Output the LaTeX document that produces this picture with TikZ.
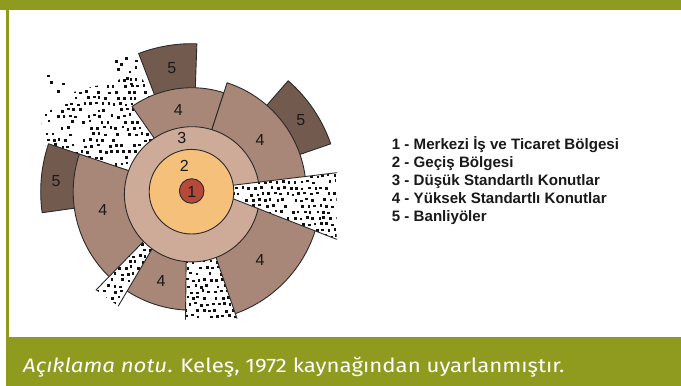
\documentclass[tikz,border=0pt]{standalone}
\usepackage{fontspec}
\setmainfont{Liberation Sans}
\newfontfamily\capfont{Fira Sans}
\definecolor{barc}{HTML}{8F9B1E}
\definecolor{linec}{HTML}{2A2A2A}
\definecolor{cfour}{HTML}{A88678}
\definecolor{cfive}{HTML}{735A4E}
\definecolor{cthree}{HTML}{CEAA98}
\definecolor{ctwo}{HTML}{F4C07A}
\definecolor{cone}{HTML}{B54A3A}
\definecolor{dotc}{HTML}{111111}
\definecolor{numc}{HTML}{1A1A1A}
\tikzset{
  sec/.style={draw=linec, line width=0.9pt, line join=round},
  sfour/.style={sec, fill=cfour},
  sfive/.style={sec, fill=cfive},
  wline/.style={draw=linec, line width=0.9pt, line cap=round},
  num/.style={font=\fontsize{16}{16}\selectfont, text=numc, inner sep=0pt},
  leg/.style={font=\fontsize{15.1}{16}\selectfont\bfseries, anchor=base west, inner sep=0pt, text=black!90},
}
% visual angles counter-clockwise; picture uses y downwards
\newcommand\sector[5]{%
  \path[#1] (191.7,191.7) ++({-(#2)}:#4) arc[start angle={-(#2)}, end angle={-(#3)}, radius=#4]
    -- ++({-(#3)}:{#5-#4}) arc[start angle={-(#3)}, end angle={-(#2)}, radius=#5] -- cycle;}
\newcommand\dotcloud[6]{%
  \begin{scope}
  \clip #1;
  \pgfmathtruncatemacro\dcnx{(#3-#2)/6.0}
  \pgfmathtruncatemacro\dcny{(#5-#4)/6.0}
  \foreach \i in {0,...,\dcnx}{\foreach \j in {0,...,\dcny}{
    \pgfmathsetmacro\dcpx{#2+\i*6.0+mod(\j,3)*2.0+2.4*(rnd-0.5)}
    \pgfmathsetmacro\dcpy{#4+\j*6.0+2.4*(rnd-0.5)}
    \pgfmathtruncatemacro\dckeep{rnd<#6}
    \ifnum\dckeep=1 \fill[dotc] (\dcpx-1.35,\dcpy-1.35) rectangle ++(2.7,2.7);\fi
  }}
  \end{scope}}
\begin{document}
\begin{tikzpicture}[x=1pt,y=-1pt]
\pgfmathsetseed{4711}
\useasboundingbox (0,0) rectangle (681,386);
\fill[white] (0,0) rectangle (681,386);
% frame
\fill[barc] (0,0) rectangle (681,9.5);
\fill[barc] (6,9.5) rectangle (8.5,337);
\fill[barc] (6,337) rectangle (681,386);

% upper-left dot cloud
\dotcloud{(152,140)--(128,172)--(46,146)--(40,128)--(46,112)--(66,104)--(74,92)--(95,86)--(112,84)--(125,76)--(140,76)--(150,90)--(162,102)--cycle}{38}{165}{74}{175}{0.8}
\foreach \x/\y in {48.3/76, 51.7/82.7, 63.3/84, 58.3/91.7, 116.7/61.7, 121.7/64.5, 126.7/58.5, 118.3/69.3, 136/67.3, 127.3/78.3, 130/72, 136.7/61, 131.7/84}
  \fill[dotc] (\x-1.35,\y-1.35) rectangle ++(2.7,2.7);

% suburbs (5)
\sector{sfive}{88}{111}{100}{148}
\sector{sfive}{19}{49}{108}{147}
\sector{sfive}{161.5}{188}{110}{151}
% high-standard housing (4)
\sector{sfour}{72}{125}{60}{104}
\sector{sfour}{-5}{72}{60}{114.5}
\sector{sfour}{161.5}{229}{60}{118.5}
\sector{sfour}{-128}{-88}{60}{118.5}
\sector{sfour}{-72}{-10}{60}{129.5}

% lower-left dotted wedge
\fill[white] (147.3,237.6)--(96,290)--(118.3,306)--(155,244)--cycle;
\dotcloud{(147.3,237.6)--(96,290)--(118.3,306)--(155,244)--cycle}{90}{160}{232}{310}{0.85}
\coordinate (lla) at (147.3,237.6); \coordinate (llb) at (96,290);
\coordinate (llc) at (155,244);   \coordinate (lld) at (118.3,306);
\draw[wline] (lla) -- (llb);
\draw[wline] (llc) -- (lld);
% bottom dotted wedge
\fill[white] (186.3,250)--(185.5,319.5)--(237,318.5)--(213.5,250)--cycle;
\dotcloud{(186.3,250)--(185.5,318)--(236.5,318)--(213.5,250)--cycle}{183}{240}{250}{320}{0.85}
\coordinate (bwa) at (186.3,250); \coordinate (bwb) at (185.5,319.5);
\coordinate (bwc) at (213.5,250); \coordinate (bwd) at (237,318.5);
\draw[wline] (bwa) -- (bwb);
\draw[wline] (bwc) -- (bwd);

% low-standard housing (3)
\filldraw[sec, fill=cthree] (192,194.3) circle[radius=67.6];

% right dotted wedge
\fill[white] (225,186.2)--(336.7,172.7)--(336.7,239.3)--(225,195.6)--cycle;
\dotcloud{(225,186.2)--(336.7,172.7)--(336.7,239.3)--(225,195.6)--cycle}{225}{340}{170}{242}{0.85}
\coordinate (rwa) at (225,186.2); \coordinate (rwb) at (336.7,172.7);
\coordinate (rwc) at (225,195.6); \coordinate (rwd) at (336.7,239.3);
\draw[wline] (rwa) -- (rwb);
\draw[wline] (rwc) -- (rwd);

% transition zone (2) and CBD (1)
\filldraw[sec, fill=ctwo] (191.5,191.7) circle[radius=42.3];
\filldraw[sec, fill=cone] (191.7,191) circle[radius=12.3];

% numbers
\node[num] (n1) at (191.7,192.3) {1};
\node[num] (n2) at (184.3,166) {2};
\node[num] (n3) at (181.7,138.3) {3};
\node[num] (n4a) at (178.3,110) {4};
\node[num] (n4b) at (260,140) {4};
\node[num] (n4c) at (102.7,210) {4};
\node[num] (n4d) at (161,280.7) {4};
\node[num] (n4e) at (260,260) {4};
\node[num] (n5a) at (171.7,68.3) {5};
\node[num] (n5b) at (300.7,120) {5};
\node[num] (n5c) at (56,180.7) {5};

% legend
\node[leg] (l1) at (391.7,149.3) {1 - Merkezi İş ve Ticaret Bölgesi};
\node[leg] (l2) at (391.7,167.4) {2 - Geçiş Bölgesi};
\node[leg] (l3) at (391.7,185.5) {3 - Düşük Standartlı Konutlar};
\node[leg] (l4) at (391.7,203.6) {4 - Yüksek Standartlı Konutlar};
\node[leg] (l5) at (391.7,221.7) {5 - Banliyöler};

% caption
\node[anchor=base west, inner sep=0pt, text=white, font=\capfont\fontsize{19.5}{20}\selectfont] (cap) at (23,372.7) {\scalebox{1.14}[1]{\textit{Açıklama notu}. Keleş, 1972 kaynağından uyarlanmıştır.}};
\end{tikzpicture}
\end{document}
